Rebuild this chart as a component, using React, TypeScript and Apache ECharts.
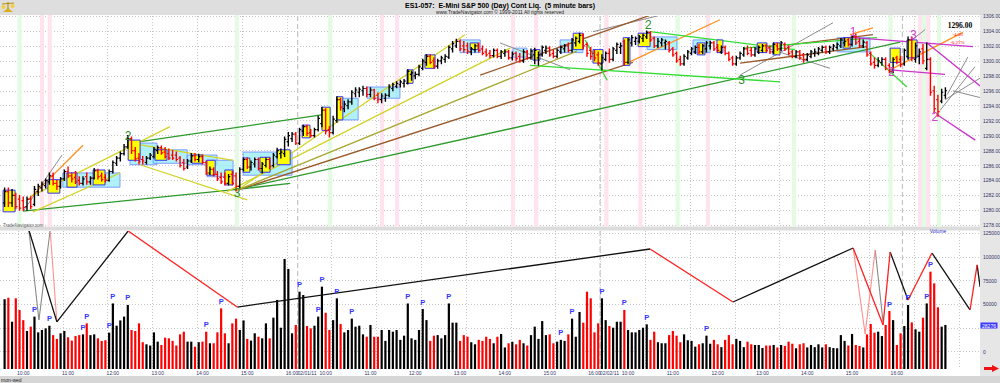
import React, { useEffect, useRef } from "react";
import * as echarts from "echarts";

// ---------------- data (5-minute bars, index 0 = 01/31 09:35) ----------------
const open = [
  1281,1282.5,1281,1282,1281.5,1281.3,1280.5,1281.5,1280.8,1282.5,
  1283,1283.3,1283.8,1284.6,1283.6,1283.2,1284.2,1285.2,1284.6,1284.4,
  1284,1283.6,1284.5,1283.8,1284.3,1285.3,1284.6,1284.4,1284,1285.2,
  1286.3,1287,1287.6,1288.5,1289.6,1288,1287,1286.8,1286.4,1287,
  1287.2,1288,1288.4,1287.8,1287.6,1287.4,1287.4,1287,1286.4,1285.8,
  1286.6,1287.3,1286.8,1287.2,1286.4,1285,1285.5,1284.8,1284.4,1284.4,
  1283.6,1284.8,1284.6,1283.2,1285.5,1286.8,1285.8,1286.2,1286.8,1285.6,
  1286,1286.8,1286,1287.2,1287.6,1287.6,1289.2,1289.6,1290.2,1289,
  1290.6,1291.2,1290.4,1290,1290.8,1291.6,1293.4,1290.8,1290.4,1292,
  1294.8,1293.6,1294,1294.5,1295.6,1295.8,1296,1296.3,1295.5,1296.1,
  1295.4,1294.8,1295,1295.4,1296.3,1296.6,1296.8,1297,1297,1298.2,
  1298,1298.2,1299,1299.8,1300.6,1300,1299.3,1300,1300.2,1300.5,
  1301.6,1302,1302.6,1302,1302,1301.2,1301.5,1302,1301.6,1301.2,
  1301,1300.7,1301.4,1300.6,1301,1301.2,1300.4,1301,1300.6,1300,
  1301.2,1300.4,1300.8,1300.4,1300.8,1301.4,1301.7,1301,1300.6,1301.2,
  1301.6,1302,1301.4,1302.4,1302.6,1303.4,1302.2,1301.4,1301,1300.8,
  1299.6,1300.2,1301,1300.2,1301.4,1301.8,1302.6,1299.8,1302.4,1302.6,
  1302.6,1303,1303.2,1303.8,1303,1302,1302.4,1302.4,1302.4,1301.6,
  1301,1300.2,1299.6,1300.4,1301,1301.2,1301.8,1301.2,1301.6,1302,
  1302.4,1301.8,1301.2,1301.8,1301,1300.4,1299.6,1300.4,1300.8,1301.6,
  1301.4,1300.8,1301.2,1301.4,1302,1301.8,1301.2,1302,1301.6,1302.2,
  1301.8,1301.2,1300.6,1301.2,1300.8,1300.2,1300.6,1301,1301,1301.4,
  1301.8,1301.2,1301.6,1301.8,1302,1302.4,1302.8,1302.2,1303.2,1302.6,
  1302,1302.4,1301,1299.8,1299.4,1299.8,1300.2,1299.4,1298.6,1300.4,
  1300.2,1299.6,1300.6,1302.8,1300.2,1300.6,1301.6,1299,1300.2,1296,
  1294.8,1294.6,1295.4,
];
const high = [
  1283,1283,1282.8,1282.3,1282,1281.8,1281.8,1281.8,1283.2,1283.5,
  1283.8,1284.2,1285,1285,1284,1284.4,1285.4,1285.8,1285,1285.2,
  1284.5,1284.5,1285,1284.5,1285.6,1285.5,1285,1284.8,1285.4,1286.6,
  1287.2,1287.8,1288.8,1290,1289.8,1288.4,1287.6,1287.2,1287.2,1287.6,
  1288.4,1288.6,1288.6,1288.4,1288.2,1288,1287.8,1287.2,1286.8,1286.8,
  1287.6,1287.6,1287.5,1287.4,1286.6,1285.8,1285.7,1285.2,1285,1285,
  1284.8,1285.2,1285,1285.7,1287,1287,1286.6,1287,1287,1286.4,
  1287,1287,1287.6,1288.3,1288.2,1289.8,1290.4,1290.4,1290.4,1291,
  1291.4,1291.4,1290.8,1291,1292.6,1293.8,1293.6,1291.2,1292.6,1295.2,
  1295,1294.6,1294.8,1296,1296.4,1296.4,1296.6,1296.5,1296.4,1296.2,
  1295.7,1295.6,1295.6,1296.8,1297,1297.2,1297.4,1297.5,1298.8,1298.6,
  1298.5,1299.4,1300.2,1300.8,1300.8,1300.4,1300.2,1300.6,1300.8,1302,
  1302.6,1302.9,1302.8,1302.6,1302.4,1301.8,1302.2,1302.4,1302,1301.6,
  1301.4,1301.6,1301.6,1301.4,1301.5,1301.4,1301.2,1301.2,1301,1301.5,
  1301.4,1301.6,1301.7,1301.2,1302,1302,1301.9,1301.4,1301.6,1302,
  1302.2,1302.4,1303,1303.2,1303.7,1303.6,1302.4,1301.8,1301.4,1301.2,
  1300.8,1301.2,1301.6,1301.8,1302.4,1302.4,1302.8,1303,1303.4,1303.2,
  1303.4,1303.6,1304,1303.9,1303.2,1303,1303,1302.8,1302.6,1301.8,
  1301.2,1300.6,1300.8,1301.4,1301.8,1302,1302.2,1302.2,1302.6,1302.6,
  1302.6,1302.2,1302,1302,1301.2,1300.6,1300.6,1301.2,1301.8,1302,
  1301.8,1301.8,1302,1302.2,1302.2,1302,1302.4,1302.4,1302.6,1302.4,
  1302,1301.4,1301.4,1301.4,1301,1301,1301.4,1301.6,1301.8,1302,
  1302,1302,1302.2,1302.4,1303,1303,1303,1303.4,1303.6,1303,
  1302.8,1302.6,1301.2,1300.4,1300.4,1300.4,1300.4,1299.6,1300.4,1300.6,
  1300.6,1301.6,1303.2,1303.2,1302.4,1301.6,1302.2,1302.4,1300.4,1296.6,
  1295.4,1296.2,1296.4,
];
const low = [
  1280.5,1280.5,1280.5,1280.2,1280,1280,1280,1280.2,1280.6,1282,
  1282.6,1283,1283.5,1283.4,1282.8,1283,1284,1284.4,1283.8,1283.6,
  1283.4,1283.4,1283.5,1283.5,1284.2,1284.2,1283.9,1283.8,1283.9,1285,
  1286,1286.6,1287.4,1288.3,1287.6,1286.6,1286.2,1286.2,1286.2,1286.8,
  1287,1287.6,1287.5,1287,1286.8,1286.8,1286.6,1285.8,1285.4,1285.6,
  1286.4,1286.6,1286.5,1286.2,1284.8,1284.8,1284.6,1284,1283.6,1283.4,
  1283.4,1283.4,1282.6,1283,1285.3,1285.6,1285.4,1285.8,1285.4,1285,
  1285.8,1285.6,1285.8,1287,1287,1287.2,1288.6,1289.2,1288.8,1288.8,
  1290,1290,1289.8,1289.8,1290.6,1291.2,1290.2,1289.8,1290.2,1291.8,
  1293.4,1293.2,1293.6,1294.2,1295.2,1295.2,1295.4,1295.2,1295.2,1294.8,
  1294.4,1294.4,1294.6,1295.2,1296,1296.4,1296.5,1296.5,1296.9,1297.4,
  1297.6,1298,1298.8,1299.4,1299.6,1299,1299,1299.6,1299.8,1300.3,
  1301.2,1301.8,1301.4,1301.2,1301,1300.8,1301.2,1301.2,1300.8,1300.6,
  1300.4,1300.5,1300.4,1300.3,1300.6,1300.2,1300.1,1300,1299.8,1299.8,
  1300.2,1300.2,1299.6,1299.4,1300.6,1301,1300.6,1300.4,1300.4,1301,
  1301.2,1301.2,1301.2,1302,1302.4,1301.6,1300.6,1300.2,1300,1299.4,
  1298.8,1300,1299.8,1300,1301,1301,1299.4,1299.6,1302,1302.2,
  1302.4,1302.6,1303,1302.6,1301.8,1301.8,1302,1301.6,1301.2,1300.6,
  1299.8,1299.4,1299.4,1300.2,1300.8,1301,1301,1301,1301.2,1301.6,
  1301.4,1301.2,1301,1300.8,1300,1299.4,1299.4,1300.2,1300.6,1300.8,
  1300.6,1300.6,1301,1301.2,1301.2,1301,1301,1301.4,1301.4,1301.4,
  1300.8,1300.4,1300.4,1300.2,1299.8,1300,1300.4,1300.6,1300.8,1301.2,
  1301,1301,1301.4,1301.6,1301.8,1302,1302,1302,1302.2,1301.8,
  1301.8,1300.6,1299.4,1299,1299.2,1299.4,1298.8,1298.4,1298.4,1299.6,
  1299.2,1299.4,1300.2,1300,1299.8,1299.6,1299.6,1298.8,1295.4,1293,
  1292.6,1294.4,1295,
];
const close = [
  1282.5,1281,1282,1280.5,1280.3,1280.4,1281.5,1280.5,1282.8,1283.2,
  1283.5,1284,1284.6,1283.6,1283.2,1284.2,1285.2,1284.6,1284.2,1283.8,
  1283.6,1284.2,1283.8,1284.3,1285.3,1284.5,1284.1,1284,1285.2,1286.4,
  1287,1287.6,1288.5,1289.6,1288,1286.9,1286.5,1286.6,1287,1287.4,
  1288.2,1288.4,1287.7,1287.2,1287,1287,1286.8,1286,1285.6,1286.6,
  1287.3,1286.8,1287.2,1286.4,1285,1285.5,1284.8,1284.2,1283.8,1283.6,
  1284.5,1283.6,1283.2,1285.5,1286.8,1285.8,1286.4,1286.8,1285.6,1286.2,
  1286.8,1285.9,1287.4,1288,1287.8,1289.5,1290,1290.2,1289,1290.8,
  1291.2,1290.3,1290,1290.8,1292.3,1293.4,1290.6,1290.4,1292.2,1294.8,
  1293.8,1294.2,1294.5,1295.8,1296.1,1296.2,1296.3,1295.5,1296.1,1295,
  1294.8,1295.3,1295.4,1296.5,1296.8,1297,1297.2,1297.3,1298.6,1298.4,
  1298.2,1299.2,1300,1300.6,1299.8,1299.3,1300,1300.4,1300.6,1301.8,
  1302.3,1302.6,1301.6,1301.5,1301.3,1301.6,1302,1301.4,1301,1300.8,
  1300.7,1301.4,1300.6,1301.2,1301.2,1300.4,1300.9,1300.3,1300,1301.2,
  1300.4,1301.3,1301.4,1300.8,1301.8,1301.7,1300.8,1300.6,1301.4,1301.8,
  1302,1301.4,1302.8,1303,1303.4,1302,1301,1300.6,1300.4,1299.7,
  1300.4,1301,1300.2,1301.6,1302.2,1302,1299.8,1302.8,1303.1,1303,
  1303.2,1303.4,1303.8,1302.8,1302,1302.6,1302.8,1302.6,1301.4,1300.8,
  1300,1299.6,1300.6,1301.2,1301.6,1301.8,1301.2,1302,1302.4,1302.4,
  1301.6,1301.4,1301.8,1301,1300.2,1299.6,1300.4,1301,1301.6,1301,
  1300.8,1301.6,1301.8,1302,1301.4,1301.2,1302.2,1301.6,1302.4,1301.6,
  1301,1300.6,1301.2,1300.4,1300.2,1300.8,1301.2,1301.2,1301.6,1301.8,
  1301.2,1301.8,1302,1302.2,1302.8,1302.6,1302.2,1303.2,1302.4,1302,
  1302.5,1300.8,1299.6,1299.4,1300,1300.2,1299,1298.6,1300.2,1299.8,
  1299.5,1301.4,1302.8,1300.4,1302,1301.2,1300,1300.2,1295.8,1293.6,
  1293.2,1295.8,1296,
];
const volume = [
  55300,57000,31600,56300,44000,33300,21800,26400,37000,20400,
  22900,24600,27400,17500,13500,19400,21800,15200,11700,16500,
  17500,18300,29900,17500,18300,14100,11400,12100,20100,50900,
  27400,33000,37000,49300,22900,21800,29900,10000,7800,6500,
  20400,10600,7100,14800,14100,11400,6500,18300,21100,10600,
  10600,5300,10000,10600,21100,8900,8900,20400,45700,19400,
  8900,29900,34900,22900,33000,13500,11700,19400,15800,14100,
  29900,14100,35900,54600,25300,97800,87300,19400,28200,63300,
  59800,27100,24600,27400,37000,68600,41100,22900,33300,56300,
  29200,20400,22900,34900,26400,27400,18300,15800,28200,15800,
  15800,22900,11400,22900,21100,22900,12500,16900,50900,14100,
  12500,22900,45000,33300,11400,16900,17500,14100,17500,50900,
  30600,30600,11400,17500,15800,10000,7800,12500,11400,15800,
  13500,8900,15800,18700,4500,8900,10600,7800,12500,8900,
  6500,17500,26400,13500,32300,17500,18300,8900,10600,12500,
  11400,18300,34900,15800,41900,30600,63300,56300,20400,29900,
  56300,33300,27100,25300,31600,31600,44000,22900,20400,20400,
  22900,25300,28800,12500,21100,10000,8900,8900,17500,21800,
  16900,10000,18300,12100,11400,5300,7800,8900,16900,8400,
  12500,7800,4800,12500,17500,7800,13500,11400,4800,10600,
  7800,7100,7100,3900,6500,6500,7100,4500,7100,6100,
  10600,8400,3600,7800,8900,4500,7100,4800,7800,4500,
  7800,4800,3900,3600,17500,11400,6500,18700,7100,6100,
  4500,18300,29200,20100,21100,16500,28200,42900,33300,7100,
  19400,27100,49300,30900,23600,21100,35900,50900,84400,72100,
  46800,26400,28200,
];

// time-axis labels (bar index -> text)
const labelIdx = [5,17,29,41,53,65,77,81, 86,98,110,122,134,146,158,162, 167,179,191,203,215,227,239,243];
const labelText = ["10:00","11:00","12:00","13:00","14:00","15:00","16:00","02/01/11",
  "10:00","11:00","12:00","13:00","14:00","15:00","16:00","02/02/11",
  "10:00","11:00","12:00","13:00","14:00","15:00","16:00","02/03/11"];
const priceTicks = [1278,1280,1282,1284,1286,1288,1290,1292,1294,1296,1298,1300,1302,1304,1306];
const volTicks = [0,25000,50000,75000,100000,125000];
const volLabelTicks = [0,50000,75000,100000,125000];
const dayBreakIdx = [78.5,159.5,240.5];

// volume pivots marked "P"
const pIdx = [8,12,21,22,28,29,33,54,58,79,84,85,89,93,108,112,119,149,152,160,166,172,188,237,242,247,248];

// highlighted session stripes
const greenBandIdx = [4,62.2,87.2,180.3,211.4,237.3,246.3,250.3];
const pinkBandIdx = [10,12.1,101.1,105.1,136.2,142.4,161.2,170.3,188.4,245.2,247.4];

// [fromIdx, toIdx, topPrice, bottomPrice]
const yellowBoxes = [
  [-0.4,2.8,1282.7,1279.8],[11.6,14.8,1284.1,1282.3],[16.7,19.4,1285.0,1283.1],[23.7,26.9,1285.4,1283.4],
  [33.1,36.3,1289.4,1286.7],[40.3,43.5,1288.1,1286.7],[50.2,53.1,1287.4,1286.3],[54.2,56.4,1286.7,1284.7],
  [59,61.2,1285.4,1283.4],[63.9,65.7,1287.0,1285.1],[68.4,71.1,1287.1,1285.1],[73,76.5,1288.1,1286.1],
  [79.7,81.8,1291.4,1289.7],[85,87.2,1293.8,1290.7],[89,90.6,1295.2,1292.1],[107.8,109.4,1298.8,1297.0],
  [112.6,115.3,1300.8,1299.0],[124.7,126.8,1302.4,1301.5],[141.5,143.4,1301.5,1300.1],[152.3,154.9,1303.7,1301.5],
  [157.6,160.3,1301.5,1299.7],[165.7,167.5,1303.1,1299.4],[169.7,172.9,1303.7,1301.9],[185.5,187.6,1302.4,1300.8],
  [190.8,192.4,1302.8,1301.1],[201.6,204.2,1302.4,1301.1],[205.8,207.7,1302.4,1300.8],[224.6,226.5,1303.1,1301.7],
  [237.2,239.9,1301.7,1299.8],[241.7,244.4,1302.8,1300.4],
];
const cyanBoxes = [
  [15.6,30.9,1285.0,1283.1],[33.6,40.8,1289.0,1286.1],[39.8,48.9,1288.1,1286.3],[48.9,56.9,1287.4,1286.1],
  [54.2,61.2,1286.7,1284.5],[63.9,77,1287.8,1284.7],[89,94.7,1295.0,1292.1],[97.1,105.9,1296.5,1295.0],
  [122,127.4,1302.8,1301.1],[136.2,139.9,1301.7,1300.5],[148.8,154.9,1302.8,1301.1],[172.1,180.1,1303.2,1301.5],
  [184.4,189,1302.8,1301.1],[223,231.8,1303.1,1301.2],
];

// trend lines [idx1, price1, idx2, price2]
const darkGreenLines = [[4.9,1279.9,62.2,1282.8],[62.2,1282.8,239.9,1302.5],[33.6,1289.0,85.3,1292.8],[62.2,1282.8,76.5,1283.6]];
const brownLines = [[62.3,1282.7,168.3,1299.8],[127.4,1298.1,172.9,1306.1],[209.6,1302.1,232.6,1303.5],[197,1299.7,231,1301.9]];
const oliveLines = [[62.3,1282.7,153.3,1301.3]];
const yellowLines = [[6.8,1281.8,44.3,1291.2],[62.3,1282.7,123.3,1303.5],[59.6,1282.5,135.4,1301.7],
  [33.6,1289.0,61.2,1286.7],[36.3,1286.1,65,1281.4],[7.6,1279.8,30.9,1285.0]];
const orangeLines = [[6.3,1281.4,21,1288.7],[166.7,1299.7,191.6,1305.5],[237.2,1298.8,256.7,1303.8],[226.5,1303.5,232.6,1304.4]];
const limeLines = [[172.9,1303.9,211.7,1301.5],[140.7,1299.4,207.7,1297.2],[155.5,1302.8,161.4,1297.4],[231.8,1301.0,241.7,1296.5],[197.8,1301.7,233.7,1303.1]];
const magentaLines = [[227.3,1303.1,259.4,1301.9],[237.2,1298.8,251.9,1298.2],[247.1,1302.4,262.6,1296.1],[249.8,1292.8,260,1289.4]];
const grayLines = [[5,1279.9,15.4,1287.4],[132.7,1302.4,151.5,1298.8],[157.6,1303.9,174.8,1306],[197,1298.1,221.9,1305.1],
  [204.3,1301.7,221.1,1299.0],[243.1,1302.8,246.6,1304.2],[250.6,1293.4,259.9,1299.2],[251.9,1294.8,262.6,1298.1],
  [252.5,1295.5,258,1300.5],[254,1296,262,1295]];

// volume-panel swing lines [idx1, vol1, idx2, vol2]
const zigBlack = [[6.5,128300,14,31400],[14,31400,33.1,127300],[62.3,47100,172.9,108300],[195.1,52400,227.3,109400],
  [237.2,105200,242,54500],[248.4,104100,258.6,44000],[260.5,91500,261.3,68300]];
const zigRed = [[33.1,127300,62.3,47100],[172.9,108300,195.1,52400],[227.3,109400,235.3,28200],[235.3,28200,237.2,105200],
  [242,54500,248.4,104100],[258.6,44000,260.5,91500]];
const zigGray = [[6.5,128300,9.2,33400],[9.2,33400,12.2,128300],[233.2,107300,235.3,31400]];
const zigPink = [[12.2,128300,14,31400],[227.3,109400,230.5,18700],[230.5,18700,233.2,107300]];

// wave labels
const greenPivotIdx = [33.1,62.3,172.4,197.4];
const greenPivotPrice = [1289.9,1282.3,1304.8,1297.4];
const greenPivotText = ["2","3","2","3"];
const magentaPivotIdx = [227.3,237.6,243.4,249.2];
const magentaPivotPrice = [1303.9,1298.55,1303.46,1292.5];
const magentaPivotText = ["1","2","3","2"];

const lastPrice = "1296.00";
const netChange = "-4.00";
const pctChange = "-0.27%";
const lastVolumeText = "28276";

// ---------------- chart ----------------
const X_MIN = -1.232;
const X_MAX = 261.27;
const FONT = '"Liberation Sans", Arial, sans-serif';
const gridTicks: number[] = [];
for (let k = 0; k < 22; k++) gridTicks.push(3.6 + 12 * k);

function lineSeries(data: number[][], color: string, width: number, grid: number, z: number) {
  return {
    type: "custom", xAxisIndex: grid, yAxisIndex: grid, clip: true, silent: true, z,
    data, encode: { x: [0, 2], y: [1, 3] },
    renderItem: (params: any, api: any) => {
      const a = api.coord([api.value(0), api.value(1)]);
      const b = api.coord([api.value(2), api.value(3)]);
      return { type: "line", shape: { x1: a[0], y1: a[1], x2: b[0], y2: b[1] }, style: { stroke: color, lineWidth: width } };
    },
  };
}
function boxSeries(data: number[][], fill: string, stroke: string, z: number) {
  return {
    type: "custom", xAxisIndex: 0, yAxisIndex: 0, clip: true, silent: true, z,
    data, encode: { x: [0, 1], y: [2, 3] },
    renderItem: (params: any, api: any) => {
      const a = api.coord([api.value(0), api.value(2)]);
      const b = api.coord([api.value(1), api.value(3)]);
      return { type: "rect", shape: { x: a[0], y: a[1], width: b[0] - a[0], height: b[1] - a[1] }, style: { fill, stroke, lineWidth: 1 } };
    },
  };
}
function bandSeries(idx: number[], fill: string) {
  return {
    type: "custom", xAxisIndex: 0, yAxisIndex: 0, silent: true, z: 1,
    data: idx.map((v) => [v, 1290]), encode: { x: 0, y: 1 },
    renderItem: (params: any, api: any) => {
      const cs = params.coordSys;
      const a = api.coord([api.value(0) - 0.55, 1290]);
      const b = api.coord([api.value(0) + 0.55, 1290]);
      return { type: "rect", shape: { x: a[0], y: cs.y - 1, width: b[0] - a[0], height: cs.height + 2.5 }, style: { fill } };
    },
  };
}
function dayBreakSeries(grid: number) {
  return {
    type: "custom", xAxisIndex: grid, yAxisIndex: grid, silent: true, z: 1,
    data: dayBreakIdx.map((v) => [v, grid === 0 ? 1290 : 0]), encode: { x: 0, y: 1 },
    renderItem: (params: any, api: any) => {
      const cs = params.coordSys;
      const p = api.coord([api.value(0), api.value(1)]);
      return { type: "line", shape: { x1: p[0], y1: cs.y, x2: p[0], y2: cs.y + cs.height }, style: { stroke: "#c4c4c4", lineWidth: 1.2, lineDash: [5, 3] } };
    },
  };
}
function pivotSeries(idx: number[], price: number[], text: string[], color: string) {
  return {
    type: "custom", xAxisIndex: 0, yAxisIndex: 0, silent: true, z: 8,
    data: idx.map((v, k) => [v, price[k]]), encode: { x: 0, y: 1 },
    renderItem: (params: any, api: any) => {
      const p = api.coord([api.value(0), api.value(1)]);
      return { type: "text", x: p[0], y: p[1], style: { text: text[params.dataIndex], fill: color, font: `12px ${FONT}`, align: "center", verticalAlign: "middle", textAlign: "center", textVerticalAlign: "middle" } };
    },
  };
}

function buildOption() {
  const bars = open.map((o, i) => [i, o, high[i], low[i], close[i]]);
  const vols = volume.map((v, i) => [i, v]);
  const pData = pIdx.map((i) => [i, volume[i]]);

  const xBase = (grid: number) => ({
    type: "value", gridIndex: grid, min: X_MIN, max: X_MAX,
    axisLine: { show: false },
    axisTick: { show: false, customValues: gridTicks },
    splitLine: { show: true, lineStyle: { color: "#c8c8c8", type: [1, 2], width: 1 } },
  });

  return {
    animation: false,
    backgroundColor: "transparent",
    grid: [
      { left: 0, right: 20, top: 16, height: 209.3, containLabel: false, outerBoundsMode: "none" },
      { left: 0, right: 20, top: 231, height: 138, containLabel: false, outerBoundsMode: "none" },
    ],
    xAxis: [
      { ...xBase(0), axisLabel: { show: false } },
      {
        ...xBase(1),
        axisLabel: {
          show: true, customValues: labelIdx, margin: 1, fontSize: 5, color: "#333366", fontFamily: FONT,
          formatter: (v: number) => { const k = labelIdx.indexOf(v); return k >= 0 ? labelText[k] : ""; },
        },
      },
    ],
    yAxis: [
      {
        type: "value", gridIndex: 0, position: "right", min: 1278, max: 1306, interval: 2,
        axisLine: { show: false }, axisTick: { show: false, customValues: priceTicks },
        axisLabel: { customValues: priceTicks, margin: 3, fontSize: 5, color: "#333366", fontFamily: FONT, formatter: (v: number) => v.toFixed(2) },
        splitLine: { show: true, lineStyle: { color: "#c8c8c8", type: [1, 2], width: 1 } },
      },
      {
        type: "value", gridIndex: 1, position: "right", min: -18250, max: 127300,
        axisLine: { show: false }, axisTick: { show: false, customValues: volTicks },
        axisLabel: { customValues: volLabelTicks, margin: 3, fontSize: 5, color: "#333366", fontFamily: FONT, formatter: (v: number) => String(Math.round(v)) },
        splitLine: { show: true, lineStyle: { color: "#c8c8c8", type: [1, 2], width: 1 } },
      },
    ],
    series: [
      bandSeries(greenBandIdx, "#e2fbe2"),
      bandSeries(pinkBandIdx, "#ffe3ee"),
      dayBreakSeries(0),
      dayBreakSeries(1),
      boxSeries(cyanBoxes, "rgba(150,236,246,0.75)", "#7c9cff", 2),
      lineSeries(grayLines, "#8c8c8c", 1, 0, 3),
      lineSeries(darkGreenLines, "#2e9a2e", 1.3, 0, 3),
      lineSeries(brownLines, "#9a5a2a", 1.3, 0, 3),
      lineSeries(oliveLines, "#a8a830", 1.3, 0, 3),
      lineSeries(yellowLines, "#d2d228", 1.3, 0, 3),
      lineSeries(orangeLines, "#ff9020", 1.3, 0, 3),
      lineSeries(limeLines, "#33dd33", 1.3, 0, 3),
      lineSeries(magentaLines, "#cc33cc", 1.3, 0, 3),
      boxSeries(yellowBoxes, "#ffff00", "#3030ff", 4),
      {
        type: "custom", xAxisIndex: 0, yAxisIndex: 0, silent: true, z: 6, clip: true,
        data: bars, encode: { x: 0, y: [1, 2, 3, 4] },
        renderItem: (params: any, api: any) => {
          const i = api.value(0), o = api.value(1), h = api.value(2), l = api.value(3), c = api.value(4);
          const pH = api.coord([i, h]), pL = api.coord([i, l]), pO = api.coord([i, o]), pC = api.coord([i, c]);
          const col = c >= o ? "#000000" : "#ff0000";
          return {
            type: "group", children: [
              { type: "line", shape: { x1: pH[0], y1: pH[1] - 0.5, x2: pL[0], y2: pL[1] + 0.5 }, style: { stroke: col, lineWidth: 1.4 } },
              { type: "line", shape: { x1: pO[0] - 1.7, y1: pO[1], x2: pO[0], y2: pO[1] }, style: { stroke: col, lineWidth: 1.2 } },
              { type: "line", shape: { x1: pC[0], y1: pC[1], x2: pC[0] + 1.7, y2: pC[1] }, style: { stroke: col, lineWidth: 1.2 } },
            ],
          };
        },
      },
      pivotSeries(greenPivotIdx, greenPivotPrice, greenPivotText, "#2e8b2e"),
      pivotSeries(magentaPivotIdx, magentaPivotPrice, magentaPivotText, "#d040d0"),
      // volume
      {
        type: "custom", xAxisIndex: 1, yAxisIndex: 1, silent: true, z: 4,
        data: vols, encode: { x: 0, y: 1 },
        renderItem: (params: any, api: any) => {
          const i = api.value(0);
          const top = api.coord([i, api.value(1)]);
          const cs = params.coordSys;
          const up = close[i] >= open[i];
          return { type: "rect", shape: { x: top[0] - 1.1, y: top[1], width: 2.2, height: cs.y + cs.height - top[1] }, style: { fill: up ? "#000000" : "#ff0000" } };
        },
      },
      {
        type: "custom", xAxisIndex: 1, yAxisIndex: 1, silent: true, z: 7,
        data: pData, encode: { x: 0, y: 1 },
        renderItem: (params: any, api: any) => {
          const p = api.coord([api.value(0), api.value(1)]);
          return { type: "text", x: p[0], y: p[1] - 7, style: { text: "P", fill: "#3535ff", font: `bold 7.5px ${FONT}`, align: "center", verticalAlign: "middle", textAlign: "center", textVerticalAlign: "middle" } };
        },
      },
      lineSeries(zigGray, "#8a8a8a", 1.1, 1, 5),
      lineSeries(zigPink, "#ff9090", 1.1, 1, 5),
      lineSeries(zigBlack, "#111111", 1.3, 1, 5),
      lineSeries(zigRed, "#ff2020", 1.3, 1, 5),
    ],
    graphic: [
      { type: "rect", z: -10, shape: { x: 0, y: 0, width: 1000, height: 15 }, style: { fill: "#dedede" } },
      { type: "rect", z: -10, shape: { x: 980, y: 15, width: 20, height: 368 }, style: { fill: "#e6e6e6" } },
      { type: "rect", z: -10, shape: { x: 0, y: 226.5, width: 980, height: 4 }, style: { fill: "#dcdcdc" } },
      { type: "rect", z: -10, shape: { x: 0, y: 376, width: 1000, height: 7 }, style: { fill: "#d6d6d6" } },
      // logo
      { type: "polygon", z: 20, shape: { points: [[3, 12], [13, 12], [8, 8]] }, style: { fill: "#d8b020" } },
      { type: "line", z: 20, shape: { x1: 8, y1: 2, x2: 8, y2: 9 }, style: { stroke: "#b89010", lineWidth: 1.2 } },
      { type: "line", z: 20, shape: { x1: 2, y1: 4, x2: 14, y2: 3 }, style: { stroke: "#b89010", lineWidth: 1.2 } },
      { type: "circle", z: 20, shape: { cx: 3.5, cy: 7, r: 2 }, style: { fill: "#f0d040" } },
      { type: "circle", z: 20, shape: { cx: 12.5, cy: 6, r: 2 }, style: { fill: "#f0d040" } },
      // title
      { type: "text", z: 20, x: 500, y: 5.5, style: { text: "ES1-057:  E-Mini S&P 500 (Day) Cont Liq.  (5 minute bars)", fill: "#000", font: `bold 7px ${FONT}`, align: "center", verticalAlign: "middle", textAlign: "center", textVerticalAlign: "middle" } },
      { type: "text", z: 20, x: 500, y: 12.3, style: { text: "www.TradeNavigator.com © 1999-2011 All rights reserved", fill: "#222", font: `5px ${FONT}`, align: "center", verticalAlign: "middle", textAlign: "center", textVerticalAlign: "middle" } },
      // last price
      { type: "text", z: 20, x: 960, y: 25.5, style: { text: lastPrice, fill: "#000", font: `bold 7.5px "Liberation Serif", serif`, align: "center", verticalAlign: "middle", textAlign: "center", textVerticalAlign: "middle" } },
      { type: "text", z: 20, x: 957.5, y: 34.5, style: { text: netChange, fill: "#ff0000", font: `5px "Liberation Serif", serif`, align: "center", verticalAlign: "middle", textAlign: "center", textVerticalAlign: "middle" } },
      { type: "text", z: 20, x: 957.5, y: 42, style: { text: pctChange, fill: "#ff0000", font: `5px "Liberation Serif", serif`, align: "center", verticalAlign: "middle", textAlign: "center", textVerticalAlign: "middle" } },
      { type: "text", z: 20, x: 3, y: 225, style: { text: "TradeNavigator.com", fill: "#666", font: `4.5px ${FONT}`, align: "left", verticalAlign: "middle", textAlign: "left", textVerticalAlign: "middle" } },
      { type: "text", z: 20, x: 938, y: 230.5, style: { text: "Volume", fill: "#3333cc", font: `5px ${FONT}`, align: "center", verticalAlign: "middle", textAlign: "center", textVerticalAlign: "middle" } },
      { type: "rect", z: 20, shape: { x: 980.5, y: 322.5, width: 17, height: 6 }, style: { fill: "#3a3aff" } },
      { type: "text", z: 21, x: 989, y: 325.6, style: { text: lastVolumeText, fill: "#ffffff", font: `5px ${FONT}`, align: "center", verticalAlign: "middle", textAlign: "center", textVerticalAlign: "middle" } },
      { type: "text", z: 20, x: 1, y: 379.7, style: { text: "mon-wed", fill: "#222", font: `5px ${FONT}`, align: "left", verticalAlign: "middle", textAlign: "left", textVerticalAlign: "middle" } },
      { type: "polygon", z: 20, shape: { points: [[984, 367], [992, 367], [992, 365], [999, 368.5], [992, 372], [992, 370], [984, 370]] }, style: { fill: "#ee1111" } },
    ],
  };
}

export default function App() {
  const ref = useRef<HTMLDivElement>(null);
  useEffect(() => {
    const chart = echarts.init(ref.current as HTMLDivElement, null, { renderer: "svg" });
    chart.setOption(buildOption() as any);
    return () => chart.dispose();
  }, []);
  return <div ref={ref} style={{ position: "fixed", left: 0, top: 0, width: 1000, height: 383, background: "#ffffff" }} />;
}
